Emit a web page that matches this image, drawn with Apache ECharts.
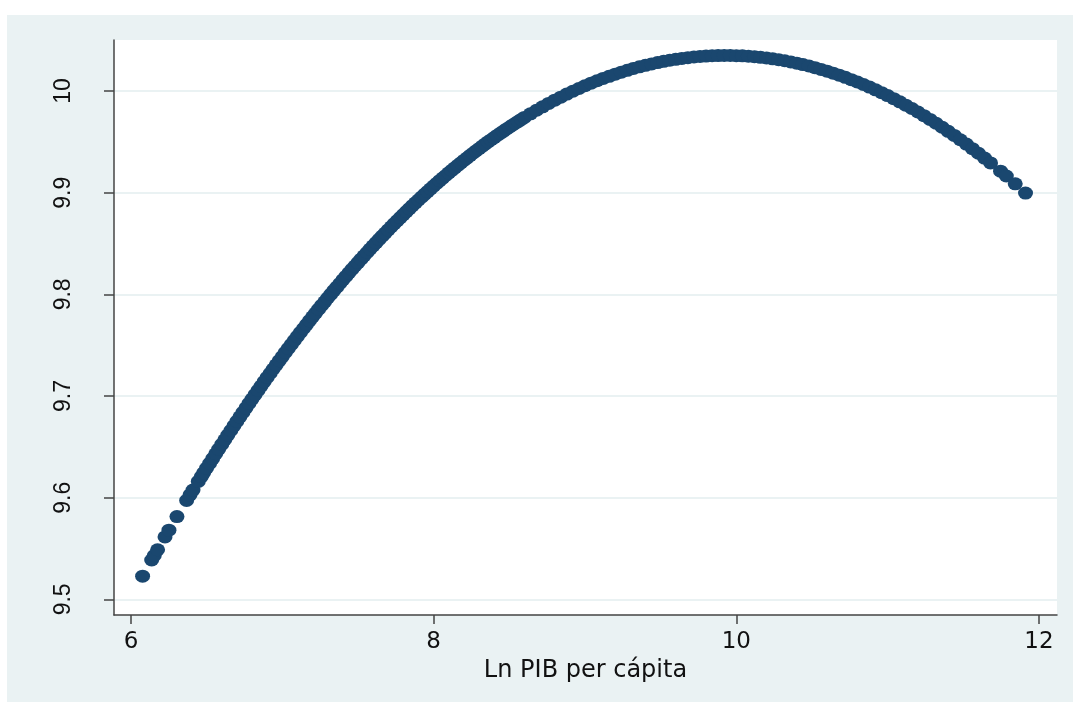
<!DOCTYPE html>
<html>
<head>
<meta charset="utf-8">
<title>Ln PIB per cápita</title>
<script src="https://cdn.jsdelivr.net/npm/echarts@6/dist/echarts.min.js"></script>
<style>
  html, body { margin: 0; padding: 0; background: #fff; }
  #chart { position: absolute; left: 7px; top: 15px; width: 1066px; height: 687px; }
</style>
</head>
<body>
<div id="chart"></div>
<script>
// Ln PIB per cápita (x) and fitted value (y)
var lnPib = [
  6.077, 6.137, 6.154, 6.176, 6.225, 6.251, 6.304, 6.368, 6.39, 6.41, 6.445, 6.465,
  6.48, 6.50, 6.52, 6.54, 6.56, 6.58, 6.60, 6.62, 6.64, 6.66, 6.68, 6.70, 6.72, 6.74, 6.76, 6.78,
  6.80, 6.82, 6.84, 6.86, 6.88, 6.90, 6.92, 6.94, 6.96, 6.98, 7.00, 7.02, 7.04, 7.06, 7.08,
  7.10, 7.12, 7.14, 7.16, 7.18, 7.20, 7.22, 7.24, 7.26, 7.28, 7.30, 7.32, 7.34, 7.36, 7.38,
  7.40, 7.42, 7.44, 7.46, 7.48, 7.50, 7.52, 7.54, 7.56, 7.58, 7.60, 7.62, 7.64, 7.66, 7.68,
  7.70, 7.72, 7.74, 7.76, 7.78, 7.80, 7.82, 7.84, 7.86, 7.88, 7.90, 7.92, 7.94, 7.96, 7.98,
  8.00, 8.02, 8.04, 8.06, 8.08, 8.10, 8.12, 8.14, 8.16, 8.18, 8.20, 8.22, 8.24, 8.26, 8.28,
  8.30, 8.32, 8.34, 8.36, 8.38, 8.40, 8.42, 8.44, 8.46, 8.48, 8.50, 8.52, 8.54, 8.56, 8.58, 8.60,
  8.64, 8.68, 8.72, 8.76, 8.80, 8.84, 8.88, 8.92, 8.96, 9.00, 9.04, 9.08, 9.12, 9.16, 9.20,
  9.24, 9.28, 9.32, 9.36, 9.40, 9.44, 9.48, 9.52, 9.56, 9.60, 9.64, 9.68, 9.72, 9.76, 9.80,
  9.84, 9.88, 9.92, 9.96, 10.00, 10.04, 10.08, 10.12, 10.16, 10.20, 10.24, 10.28, 10.32, 10.36,
  10.40, 10.44, 10.48, 10.52, 10.56, 10.60, 10.64, 10.68, 10.72, 10.76, 10.80, 10.84, 10.88,
  10.92, 10.96, 11.00, 11.04, 11.08, 11.12, 11.16, 11.20, 11.24, 11.28, 11.32, 11.36, 11.40,
  11.44, 11.48, 11.52, 11.56, 11.60, 11.64, 11.68,
  11.746, 11.784, 11.843, 11.911
];
var fitted = [
  9.5228, 9.5387, 9.5431, 9.5488, 9.5614, 9.5680, 9.5814, 9.5973, 9.6027, 9.6075, 9.6160, 9.6208,
  9.6244, 9.6291, 9.6338, 9.6385, 9.6432, 9.6478, 9.6524, 9.6570, 9.6616, 9.6661, 9.6706, 9.6751, 9.6795, 9.6839, 9.6883, 9.6927,
  9.6970, 9.7013, 9.7056, 9.7098, 9.7141, 9.7183, 9.7224, 9.7266, 9.7307, 9.7348, 9.7388, 9.7429, 9.7469, 9.7508, 9.7548,
  9.7587, 9.7626, 9.7664, 9.7703, 9.7741, 9.7779, 9.7816, 9.7854, 9.7891, 9.7927, 9.7964, 9.8000, 9.8036, 9.8071, 9.8107,
  9.8142, 9.8176, 9.8211, 9.8245, 9.8279, 9.8313, 9.8346, 9.8379, 9.8412, 9.8445, 9.8477, 9.8509, 9.8541, 9.8572, 9.8603,
  9.8634, 9.8665, 9.8695, 9.8725, 9.8755, 9.8785, 9.8814, 9.8843, 9.8872, 9.8900, 9.8928, 9.8956, 9.8984, 9.9011, 9.9038,
  9.9065, 9.9091, 9.9118, 9.9144, 9.9169, 9.9195, 9.9220, 9.9245, 9.9269, 9.9293, 9.9317, 9.9341, 9.9365, 9.9388, 9.9411,
  9.9433, 9.9456, 9.9478, 9.9500, 9.9521, 9.9542, 9.9563, 9.9584, 9.9604, 9.9625, 9.9644, 9.9664, 9.9683, 9.9702, 9.9721, 9.9740,
  9.9776, 9.9811, 9.9845, 9.9878, 9.9910, 9.9940, 9.9970, 9.9998, 10.0025, 10.0052, 10.0077, 10.0101, 10.0124, 10.0145, 10.0166,
  10.0186, 10.0204, 10.0222, 10.0238, 10.0253, 10.0267, 10.0280, 10.0292, 10.0303, 10.0312, 10.0321, 10.0328, 10.0335, 10.0340, 10.0344,
  10.0347, 10.0349, 10.0350, 10.0350, 10.0348, 10.0346, 10.0342, 10.0338, 10.0332, 10.0325, 10.0317, 10.0308, 10.0298, 10.0286,
  10.0274, 10.0260, 10.0246, 10.0230, 10.0213, 10.0195, 10.0176, 10.0156, 10.0135, 10.0112, 10.0089, 10.0064, 10.0039,
  10.0012, 9.9984, 9.9955, 9.9925, 9.9894, 9.9861, 9.9828, 9.9794, 9.9758, 9.9721, 9.9683, 9.9644, 9.9604,
  9.9563, 9.9521, 9.9478, 9.9433, 9.9388, 9.9341, 9.9293,
  9.9212, 9.9164, 9.9087, 9.8996
];
var xTicks = [6, 8, 10, 12];
var yTicks = [9.5, 9.6, 9.7, 9.8, 9.9, 10];

var points = lnPib.map(function (x, i) { return [x, fitted[i]]; });

var chart = echarts.init(document.getElementById('chart'));
chart.setOption({
  animation: false,
  backgroundColor: '#EAF2F3',
  textStyle: { fontFamily: 'Liberation Sans', color: '#111' },
  grid: {
    left: 107,
    top: 25,
    width: 943,
    height: 575,
    show: true,
    backgroundColor: '#ffffff',
    borderWidth: 0
  },
  xAxis: {
    type: 'value',
    min: 5.888,
    max: 12.119,
    name: 'Ln PIB per cápita',
    nameLocation: 'middle',
    nameGap: 36,
    nameTextStyle: { fontFamily: 'DejaVu Sans', fontSize: 24, color: '#111' },
    axisLine: { show: true, onZero: false, lineStyle: { color: '#444', width: 1.5 } },
    axisTick: { show: true, length: 9, customValues: xTicks, lineStyle: { color: '#444', width: 1.5 } },
    axisLabel: {
      customValues: xTicks,
      margin: 16,
      fontFamily: 'DejaVu Sans',
      fontSize: 23,
      color: '#111'
    },
    splitLine: { show: false }
  },
  yAxis: {
    type: 'value',
    min: 9.4846,
    max: 10.0502,
    axisLine: { show: true, onZero: false, lineStyle: { color: '#444', width: 1.5 } },
    axisTick: { show: true, length: 10, customValues: yTicks, lineStyle: { color: '#444', width: 1.5 } },
    axisLabel: {
      customValues: yTicks,
      rotate: 90,
      margin: 39,
      fontFamily: 'Liberation Sans',
      fontSize: 23,
      color: '#111',
      formatter: function (v) { return String(+v.toFixed(1)); }
    },
    splitLine: { show: true, lineStyle: { color: '#EAF2F3', width: 2 } }
  },
  series: [
    {
      type: 'scatter',
      data: points,
      symbol: 'circle',
      symbolSize: [15, 13],
      itemStyle: { color: '#1A476F', opacity: 1 },
      emphasis: { disabled: true }
    }
  ]
});
</script>
</body>
</html>
